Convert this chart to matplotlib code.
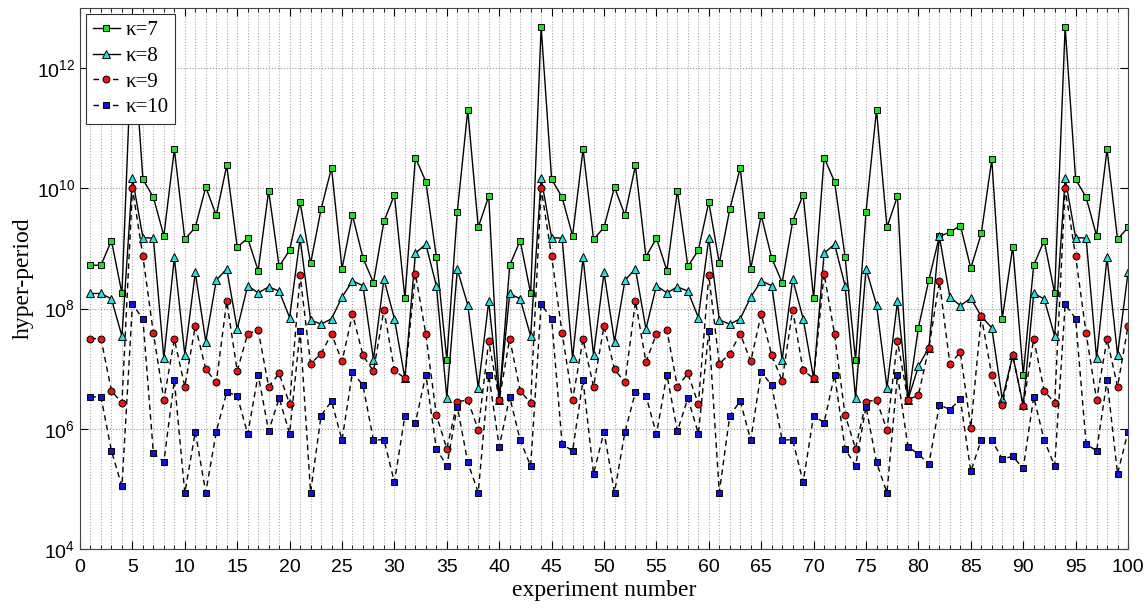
import numpy as np
import matplotlib
matplotlib.use("Agg")
import matplotlib.pyplot as plt
from matplotlib.ticker import FixedLocator, MultipleLocator, NullFormatter

# experiment numbers
experiments = list(range(1, 101))

# log10 of hyper-period
log_k7 = [8.72, 8.72, 9.13, 8.25, 12.69, 10.15, 9.85, 9.21, 10.65, 9.15,
          9.35, 10.02, 9.55, 10.38, 9.02, 9.17, 8.63, 9.96, 8.70, 8.97,
          9.77, 8.75, 9.65, 10.34, 8.66, 9.55, 8.84, 8.43, 9.45, 9.89,
          8.17, 10.51, 10.11, 8.86, 7.15, 9.61, 11.30, 9.35, 9.87, 6.48,
          8.72, 9.13, 8.25, 12.69, 10.15, 9.85, 9.21, 10.65, 9.15, 9.35,
          10.02, 9.55, 10.38, 8.86, 9.17, 8.63, 9.96, 8.70, 8.97, 9.77,
          8.75, 9.65, 10.34, 8.66, 9.55, 8.84, 8.43, 9.45, 9.89, 8.17,
          10.51, 10.11, 8.86, 7.15, 9.61, 11.30, 9.35, 9.87, 6.48, 7.68,
          8.48, 9.20, 9.27, 9.38, 8.67, 9.25, 10.48, 7.83, 9.03, 6.90,
          8.72, 9.13, 8.25, 12.69, 10.15, 9.85, 9.21, 10.65, 9.15, 9.35]

log_k8 = [8.25, 8.25, 8.16, 7.54, 10.17, 9.18, 9.17, 7.17, 8.85, 7.23,
          8.60, 7.45, 8.47, 8.66, 7.66, 8.38, 8.26, 8.36, 8.29, 7.85,
          9.17, 7.81, 7.74, 7.83, 8.19, 8.46, 8.38, 7.15, 8.49, 7.83,
          6.84, 8.92, 9.07, 8.38, 6.52, 8.65, 8.06, 6.68, 8.12, 6.48,
          8.25, 8.16, 7.54, 10.17, 9.18, 9.17, 7.17, 8.85, 7.23, 8.60,
          7.45, 8.47, 8.66, 7.66, 8.38, 8.26, 8.36, 8.29, 7.85, 9.17,
          7.81, 7.74, 7.83, 8.19, 8.46, 8.38, 7.15, 8.49, 7.83, 6.84,
          8.92, 9.07, 8.38, 6.52, 8.66, 8.06, 6.68, 8.12, 6.48, 7.04,
          7.35, 9.20, 8.19, 8.05, 8.17, 7.87, 7.68, 6.49, 7.22, 6.39,
          8.25, 8.16, 7.54, 10.17, 9.18, 9.17, 7.17, 8.85, 7.23, 8.60]

log_k9 = [7.50, 7.50, 6.63, 6.43, 10.00, 8.87, 7.59, 6.48, 7.49, 6.70,
          7.71, 6.99, 6.77, 8.12, 6.96, 7.58, 7.64, 6.70, 6.92, 6.41,
          8.55, 7.08, 7.25, 7.58, 7.12, 7.91, 7.22, 6.96, 7.98, 6.97,
          6.84, 8.58, 7.57, 6.23, 5.67, 6.45, 6.48, 5.98, 7.46, 6.48,
          7.50, 6.63, 6.43, 10.00, 8.87, 7.59, 6.48, 7.49, 6.70, 7.71,
          6.99, 6.77, 8.12, 7.11, 7.58, 7.64, 6.70, 6.92, 6.41, 8.55,
          7.08, 7.25, 7.58, 7.12, 7.91, 7.22, 6.80, 7.98, 6.97, 6.84,
          8.58, 7.57, 6.23, 5.67, 6.45, 6.48, 5.98, 7.46, 6.48, 6.56,
          7.35, 8.45, 7.08, 7.27, 6.02, 7.87, 6.89, 6.40, 7.22, 6.38,
          7.50, 6.63, 6.43, 10.00, 8.87, 7.59, 6.48, 7.49, 6.70, 7.71]

log_k10 = [6.53, 6.53, 5.63, 5.04, 8.07, 7.83, 5.59, 5.45, 6.81, 4.93,
           5.95, 4.94, 5.95, 6.61, 6.55, 5.91, 6.90, 5.96, 6.51, 5.92,
           7.63, 4.94, 6.22, 6.46, 5.81, 6.95, 6.72, 5.81, 5.82, 5.11,
           6.22, 6.10, 6.90, 5.67, 5.38, 6.37, 5.44, 4.94, 6.90, 5.70,
           6.53, 5.81, 5.38, 8.07, 7.83, 5.75, 5.63, 6.81, 5.25, 5.95,
           4.94, 5.95, 6.61, 6.55, 5.91, 6.90, 5.96, 6.51, 5.92, 7.63,
           4.94, 6.22, 6.46, 5.81, 6.95, 6.72, 5.81, 5.82, 5.11, 6.22,
           6.10, 6.90, 5.67, 5.38, 6.37, 5.44, 4.94, 6.90, 5.70, 5.58,
           5.41, 6.40, 6.32, 6.49, 5.29, 5.82, 5.81, 5.50, 5.54, 5.34,
           6.53, 5.81, 5.38, 8.07, 7.83, 5.75, 5.63, 6.81, 5.25, 5.95]

labels = ["κ=7", "κ=8", "κ=9", "κ=10"]
x_ticks = list(range(0, 101, 5))
y_ticks = [1e4, 1e6, 1e8, 1e10, 1e12]

plt.rcParams['mathtext.fontset'] = 'custom'
plt.rcParams['mathtext.rm'] = 'Liberation Sans'
plt.rcParams['mathtext.it'] = 'Liberation Sans:italic'
plt.rcParams['mathtext.bf'] = 'Liberation Sans:bold'

fig = plt.figure(figsize=(11.48, 6.08), dpi=100)
ax = fig.add_axes([0.0697, 0.097, 0.9129, 0.890])

styles = [
    dict(marker='s', mfc='#22dd22', ms=4.5),
    dict(marker='^', mfc='#22e0e0', ms=6),
    dict(marker='o', mfc='#ee1111', ms=5, dashes=(4, 3)),
    dict(marker='s', mfc='#1111dd', ms=4, dashes=(4, 3)),
]
for vals, st, lab in zip([log_k7, log_k8, log_k9, log_k10], styles, labels):
    ax.plot(experiments, 10 ** np.array(vals), color='black', lw=1.0,
            mec='black', mew=0.7, label=lab, **st)

ax.set_yscale('log')
ax.set_xlim(0, 100)
ax.set_ylim(1e4, 1e13)
ax.xaxis.set_major_locator(FixedLocator(x_ticks))
ax.xaxis.set_minor_locator(MultipleLocator(1))
ax.yaxis.set_major_locator(FixedLocator(y_ticks))
ax.yaxis.set_minor_locator(FixedLocator([]))
ax.yaxis.set_minor_formatter(NullFormatter())

ax.grid(True, which='major', axis='y', ls=':', color='#999999', lw=0.8)
ax.grid(True, which='both', axis='x', ls=':', color='#aaaaaa', lw=0.8)
ax.set_axisbelow(True)

ax.tick_params(which='both', direction='in', top=True, right=True)
ax.tick_params(which='major', length=6, labelsize=14)
ax.tick_params(axis='x', which='major', pad=7)
ax.tick_params(which='minor', length=3)
for lab in ax.get_xticklabels() + ax.get_yticklabels():
    lab.set_fontfamily('Liberation Sans')
for sp in ax.spines.values():
    sp.set_color('#444444')

ax.set_xlabel('experiment number', fontsize=17, fontfamily='Liberation Serif', labelpad=3)
ax.set_ylabel('hyper-period', fontsize=17, fontfamily='Liberation Serif', labelpad=2)

leg = ax.legend(loc='upper left', numpoints=1, fancybox=False, framealpha=1,
                edgecolor='#333333', prop={'family': 'Liberation Serif', 'size': 15},
                handlelength=1.3, handletextpad=0.3, borderpad=0.3,
                labelspacing=0.3, borderaxespad=0.3)
leg.get_frame().set_linewidth(0.8)

fig.savefig('out.png', dpi=100)
